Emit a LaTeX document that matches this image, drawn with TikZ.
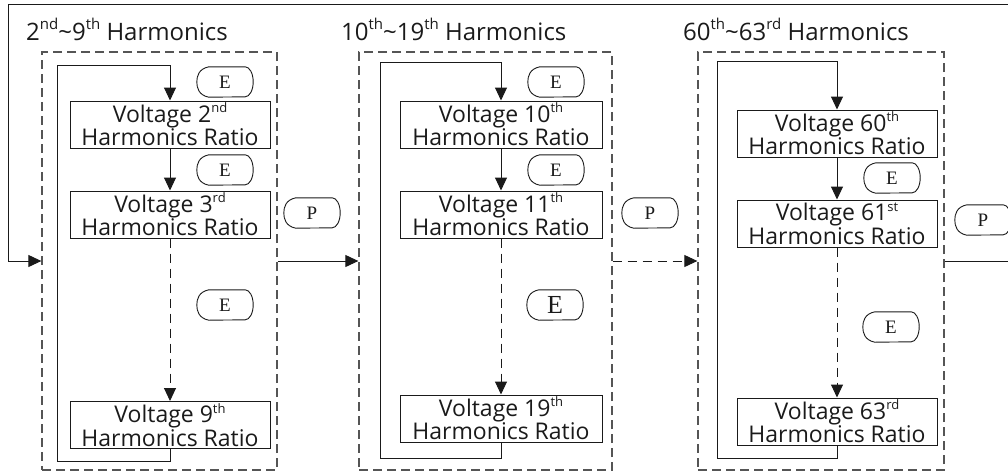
\documentclass[tikz,border=0pt]{standalone}
\usepackage{fontspec}
\setmainfont{Open Sans}
\newfontfamily\serifE{Liberation Serif}
\usetikzlibrary{arrows.meta}
\definecolor{ink}{HTML}{1A1A1A}
\definecolor{dashgray}{HTML}{555555}
\newcommand\dispoutline[1]{\draw[shapeline] ([xshift=12pt]#1.north west) -- ([xshift=-8pt]#1.north east) arc[start angle=90,end angle=-90,x radius=8pt,y radius=15pt] -- ([xshift=12pt]#1.south west) .. controls ([xshift=2pt,yshift=2pt]#1.south west) and ([yshift=-6pt]#1.west) .. (#1.west) .. controls ([yshift=6pt]#1.west) and ([xshift=2pt,yshift=-2pt]#1.north west) .. cycle;}
\newcommand\sups[1]{\raisebox{0.42em}{\fontsize{13}{13}\selectfont #1}}
\newcommand\tsups[1]{\raisebox{0.42em}{\fontsize{15}{15}\selectfont #1}}
\begin{document}
\begin{tikzpicture}[x=1pt,y=-1pt,
  ratio/.style={draw=ink, line width=1pt, minimum width=200pt, minimum height=47pt, inner sep=0pt, align=center, text=ink, font=\fontsize{23}{21}\selectfont},
  group/.style={draw=dashgray, line width=1.3pt, dash pattern=on 9pt off 5pt, inner sep=0pt},
  disp/.style={minimum width=56pt, minimum height=30pt, inner sep=0pt, text=ink, font=\serifE\fontsize{19}{19}\selectfont},
  shapeline/.style={draw=ink, line width=0.9pt},
  title/.style={anchor=base west, inner sep=0pt, text=ink, font=\fontsize{24}{24}\selectfont},
  flow/.style={draw=ink, line width=1pt, -{Triangle[length=13pt,width=12pt]}},
  flowdash/.style={flow, dash pattern=on 9pt off 6pt}
]
\useasboundingbox (0,0) rectangle (1008,472);

% titles
\node[title] (t1) at (26,40) {2\tsups{nd}\textasciitilde9\tsups{th} Harmonics};
\node[title] (t2) at (341,40) {10\tsups{th}\textasciitilde19\tsups{th} Harmonics};
\node[title] (t3) at (683,40) {60\tsups{th}\textasciitilde63\tsups{rd} Harmonics};

% groups
\node[group, minimum width=235pt, minimum height=418pt] (g1) at (159.5,261) {};
\node[group, minimum width=253pt, minimum height=418pt] (g2) at (485.5,261) {};
\node[group, minimum width=246pt, minimum height=418pt] (g3) at (821,261) {};

% panel 1
\node[ratio] (b1a) at (170,124.5) {Voltage 2\sups{nd}\\Harmonics Ratio};
\node[ratio] (b1b) at (170,214.5) {Voltage 3\sups{rd}\\Harmonics Ratio};
\node[ratio] (b1c) at (170,425) {Voltage 9\sups{th}\\Harmonics Ratio};
% panel 2
\node[ratio, minimum width=202pt] (b2a) at (501,124.5) {Voltage 10\sups{th}\\Harmonics Ratio};
\node[ratio, minimum width=202pt] (b2b) at (501,214.5) {Voltage 11\sups{th}\\Harmonics Ratio};
\node[ratio, minimum width=202pt] (b2c) at (501,418.5) {Voltage 19\sups{th}\\Harmonics Ratio};
% panel 3
\node[ratio] (b3a) at (837,133.5) {Voltage 60\sups{th}\\Harmonics Ratio};
\node[ratio] (b3b) at (837,223.5) {Voltage 61\sups{st}\\Harmonics Ratio};
\node[ratio] (b3c) at (837,421.5) {Voltage 63\sups{rd}\\Harmonics Ratio};

% E / P symbols
\node[disp] (e1a) at (225,82) {E};
\node[disp] (e1b) at (225,170) {E};
\node[disp] (e1c) at (225,305) {E};
\node[disp] (p1) at (312,213) {P};
\node[disp] (e2a) at (556,82) {E};
\node[disp] (e2b) at (556,170) {E};
\node[disp, font=\serifE\fontsize{26}{26}\selectfont] (e2c) at (555,305) {E};
\node[disp] (p2) at (650,213) {P};
\node[disp] (e3a) at (892,178) {E};
\node[disp] (e3c) at (891,327) {E};
\node[disp] (p3) at (983,220) {P};
\foreach \n in {e1a,e1b,e1c,p1,e2a,e2b,e2c,p2,e3a,e3c,p3} {\dispoutline{\n}}

% loop corners
\coordinate (l1t) at (57,65);  \coordinate (l1b) at (57,461);
\coordinate (l2t) at (380,62); \coordinate (l2b) at (380,458);
\coordinate (l3t) at (717,61); \coordinate (l3b) at (717,458);

% inner flows
\draw[flow] (b1a) -- (b1b);
\draw[flowdash] (b1b) -- (b1c);
\draw[flow] (b1c.south) |- (l1b) -- (l1t) -| (b1a.north);
\draw[flow] (b2a) -- (b2b);
\draw[flowdash] (b2b) -- (b2c);
\draw[flow] (b2c.south) |- (l2b) -- (l2t) -| (b2a.north);
\draw[flow] (b3a) -- (b3b);
\draw[flowdash] (b3b) -- (b3c);
\draw[flow] (b3c.south) |- (l3b) -- (l3t) -| (b3a.north);

% between groups
\draw[flow] (g1.east) -- (g2.west);
\draw[flowdash] (g2.east) -- (g3.west);
\coordinate (r1) at (1011,261);
\coordinate (r2) at (1011,4);
\coordinate (r3) at (8,4);
\coordinate (r4) at (8,261);
\draw[flow] (g3.east) -- (r1) -- (r2) -- (r3) -- (r4) -- (g1.west);
\end{tikzpicture}
\end{document}
